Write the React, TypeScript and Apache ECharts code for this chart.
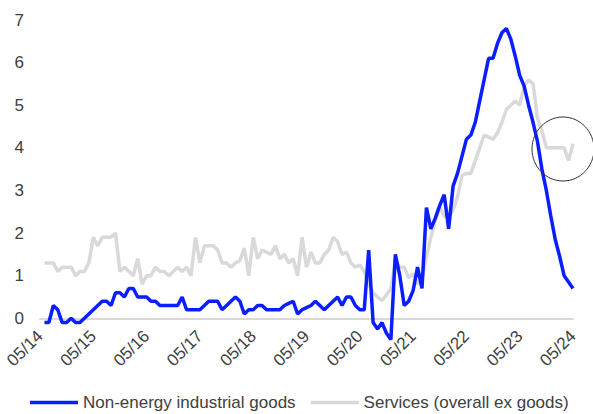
import React, { useEffect, useRef } from "react";
import * as echarts from "echarts";

// Monthly categories 05/14 .. 05/24
const categories: string[] = [];
for (let y = 14; y <= 24; y++) {
  for (let m = 1; m <= 12; m++) {
    if ((y === 14 && m < 5) || (y === 24 && m > 5)) continue;
    categories.push(String(m).padStart(2, "0") + "/" + y);
  }
}

const seriesNames = ["Non-energy industrial goods", "Services (overall ex goods)"];

const goods: (number | null)[] = [
  null,
  -0.1, -0.1, 0.3, 0.2, -0.1, -0.1, 0.0, -0.1, -0.1, 0.0,
  0.1, 0.2, 0.3, 0.4, 0.4, 0.3, 0.6, 0.6, 0.5, 0.7,
  0.7, 0.5, 0.5, 0.5, 0.4, 0.4, 0.3, 0.3, 0.3, 0.3,
  0.3, 0.5, 0.2, 0.2, 0.2, 0.2, 0.3, 0.4, 0.4, 0.4,
  0.2, 0.3, 0.4, 0.5, 0.4, 0.1, 0.2, 0.2, 0.3, 0.3,
  0.2, 0.2, 0.2, 0.2, 0.3, 0.35, 0.4, 0.1, 0.2, 0.25,
  0.3, 0.4, 0.3, 0.2, 0.3, 0.4, 0.5, 0.3, 0.5, 0.5,
  0.3, 0.2, 0.2, 1.6, -0.1, -0.25, -0.1, -0.35, -0.5, 1.5,
  1.0, 0.3, 0.4, 0.65, 1.2, 0.7, 2.6, 2.1, 2.35, 2.65,
  2.9, 2.1, 3.1, 3.4, 3.8, 4.2, 4.3, 4.6, 5.1, 5.6,
  6.1, 6.1, 6.45, 6.7, 6.8, 6.55, 6.15, 5.7, 5.45, 5.0,
  4.6, 4.15, 3.5, 3.0, 2.4, 1.85, 1.45, 1.0, 0.85, 0.7,
];

const services: (number | null)[] = [
  null,
  1.3, 1.3, 1.3, 1.1, 1.2, 1.2, 1.2, 1.0, 1.1, 1.1,
  1.3, 1.9, 1.7, 1.9, 1.9, 1.9, 2.0, 1.1, 1.2, 1.1,
  1.0, 1.4, 0.8, 1.0, 1.0, 1.2, 1.1, 1.1, 1.0, 1.1,
  1.2, 1.1, 1.2, 1.0, 1.9, 1.3, 1.7, 1.7, 1.7, 1.6,
  1.3, 1.3, 1.2, 1.3, 1.35, 1.65, 1.0, 1.9, 1.4, 1.6,
  1.55, 1.5, 1.7, 1.4, 1.5, 1.3, 1.4, 1.0, 1.9, 1.2,
  1.55, 1.3, 1.3, 1.5, 1.6, 1.9, 1.8, 1.5, 1.55, 1.3,
  1.2, 1.25, 1.1, 0.8, 0.6, 0.5, 0.42, 0.55, 0.7, 1.35,
  1.2, 1.2, 0.95, 1.05, 0.8, 0.9, 1.45, 1.9, 2.3, 2.6,
  2.4, 2.35, 2.55, 2.85, 3.35, 3.4, 3.4, 3.7, 4.0, 4.3,
  4.25, 4.2, 4.35, 4.6, 4.9, 5.0, 5.1, 5.0, 5.45, 5.6,
  5.5, 4.7, 4.4, 4.0, 4.0, 4.0, 4.0, 4.0, 3.7, 4.1,
];

const yMin = 0;
const yMax = 7;

const FONT = "'Liberation Sans', Arial, sans-serif";
const TEXT = "#404040";
const BLUE = "#0A1EFF";
const GREY = "#D9D9D9";

export default function App() {
  const ref = useRef<HTMLDivElement>(null);
  useEffect(() => {
    if (!ref.current) return;
    const chart = echarts.init(ref.current, undefined, { renderer: "svg" });
    chart.setOption({
      animation: false,
      textStyle: { fontFamily: FONT },
      grid: { left: 40, right: 20, top: 20, bottom: 95.7, containLabel: false },
      legend: {
        data: seriesNames,
        left: 30,
        top: 394,
        padding: 0,
        icon: "rect",
        itemWidth: 48,
        itemHeight: 3.5,
        itemGap: 15,
        textStyle: { fontSize: 17, color: TEXT, fontFamily: FONT },
      },
      xAxis: {
        type: "category",
        data: categories,
        boundaryGap: false,
        axisLine: { lineStyle: { color: GREY, width: 2 } },
        axisTick: { show: false },
        axisLabel: {
          interval: 11,
          rotate: 45,
          fontSize: 17,
          color: TEXT,
          fontFamily: FONT,
          margin: 15,
        },
        splitLine: { show: false },
      },
      yAxis: {
        type: "value",
        min: yMin,
        max: yMax,
        interval: 1,
        axisLine: { show: false },
        axisTick: { show: false },
        splitLine: { show: false },
        axisLabel: {
          fontSize: 17,
          color: TEXT,
          fontFamily: FONT,
          margin: 16,
        },
      },
      series: [
        {
          name: seriesNames[0],
          type: "line",
          data: goods,
          showSymbol: false,
          symbol: "none",
          clip: false,
          z: 3,
          lineStyle: { color: BLUE, width: 3.5 },
          itemStyle: { color: BLUE },
        },
        {
          name: seriesNames[1],
          type: "line",
          data: services,
          showSymbol: false,
          symbol: "none",
          clip: false,
          z: 2,
          lineStyle: { color: GREY, width: 3.5 },
          itemStyle: { color: GREY },
        },
      ],
      graphic: [
        {
          type: "ellipse",
          shape: { cx: 563, cy: 149, rx: 31, ry: 32 },
          style: { fill: "none", stroke: "#333333", lineWidth: 1 },
          z: 10,
        },
      ],
    });
    return () => chart.dispose();
  }, []);
  return (
    <div
      ref={ref}
      style={{ position: "absolute", left: 0, top: 0, width: 593, height: 414 }}
    />
  );
}
